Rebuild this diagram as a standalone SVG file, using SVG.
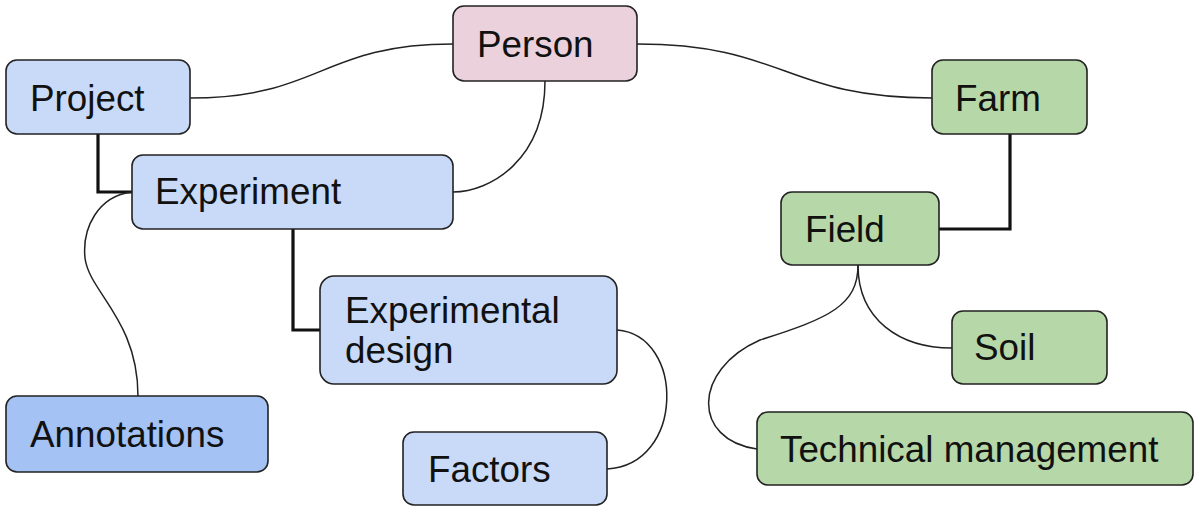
<svg xmlns="http://www.w3.org/2000/svg" width="1200" height="512" viewBox="0 0 1200 512">
<style>
.n{stroke:#222;stroke-width:1.6}
.blue{fill:#c9daf8}
.dblue{fill:#a4c2f4}
.pink{fill:#ead1dc}
.green{fill:#b6d7a8}
text{font-family:"Liberation Sans",Arial,sans-serif;font-size:36.8px;fill:#111}
.thin{fill:none;stroke:#222;stroke-width:1.5}
.thick{fill:none;stroke:#111;stroke-width:3.2}
</style>
<rect width="1200" height="512" fill="#fff"/>
<g id="connectors">
<path class="thin" d="M190,98 C321,98 321,44 453,44"/>
<path class="thin" d="M637,44 C785,44 785,98 932,98"/>
<path class="thin" d="M545,81 C545,160 490,192 453,192"/>
<path class="thick" d="M98,134 V192 H132"/>
<path class="thin" d="M132,192 C98,196 82,228 85,258 C89,292 138,320 138,396"/>
<path class="thick" d="M293,229 V330 H320"/>
<path class="thin" d="M617,330 C685,335 685,465 607,469"/>
<path class="thick" d="M1010,134 V229 H939"/>
<path class="thin" d="M858,265 C858,320 900,348 952,348"/>
<path class="thin" d="M858,265 C858,305 830,318 760,340 C692,370 692,440 757,449"/>
</g>
<g id="person"><rect class="n pink" x="453" y="6" width="184" height="75" rx="11"/><text x="477" y="57">Person</text></g>
<g id="project"><rect class="n blue" x="6" y="60" width="184" height="74" rx="11"/><text x="30" y="111">Project</text></g>
<g id="experiment"><rect class="n blue" x="132" y="155" width="321" height="74" rx="11"/><text x="155" y="204">Experiment</text></g>
<g id="experimental-design"><rect class="n blue" x="320" y="276" width="297" height="108" rx="14"/><text x="345" y="323">Experimental</text><text x="345" y="363">design</text></g>
<g id="factors"><rect class="n blue" x="403" y="432" width="204" height="73" rx="11"/><text x="428" y="482">Factors</text></g>
<g id="annotations"><rect class="n dblue" x="6" y="396" width="262" height="76" rx="11"/><text x="30" y="447">Annotations</text></g>
<g id="farm"><rect class="n green" x="932" y="60" width="155" height="74" rx="11"/><text x="955" y="111">Farm</text></g>
<g id="field"><rect class="n green" x="781" y="192" width="158" height="73" rx="11"/><text x="805" y="242">Field</text></g>
<g id="soil"><rect class="n green" x="952" y="311" width="155" height="73" rx="11"/><text x="974" y="360">Soil</text></g>
<g id="technical-management"><rect class="n green" x="757" y="412" width="436" height="73" rx="11"/><text x="780" y="462">Technical management</text></g>
</svg>
